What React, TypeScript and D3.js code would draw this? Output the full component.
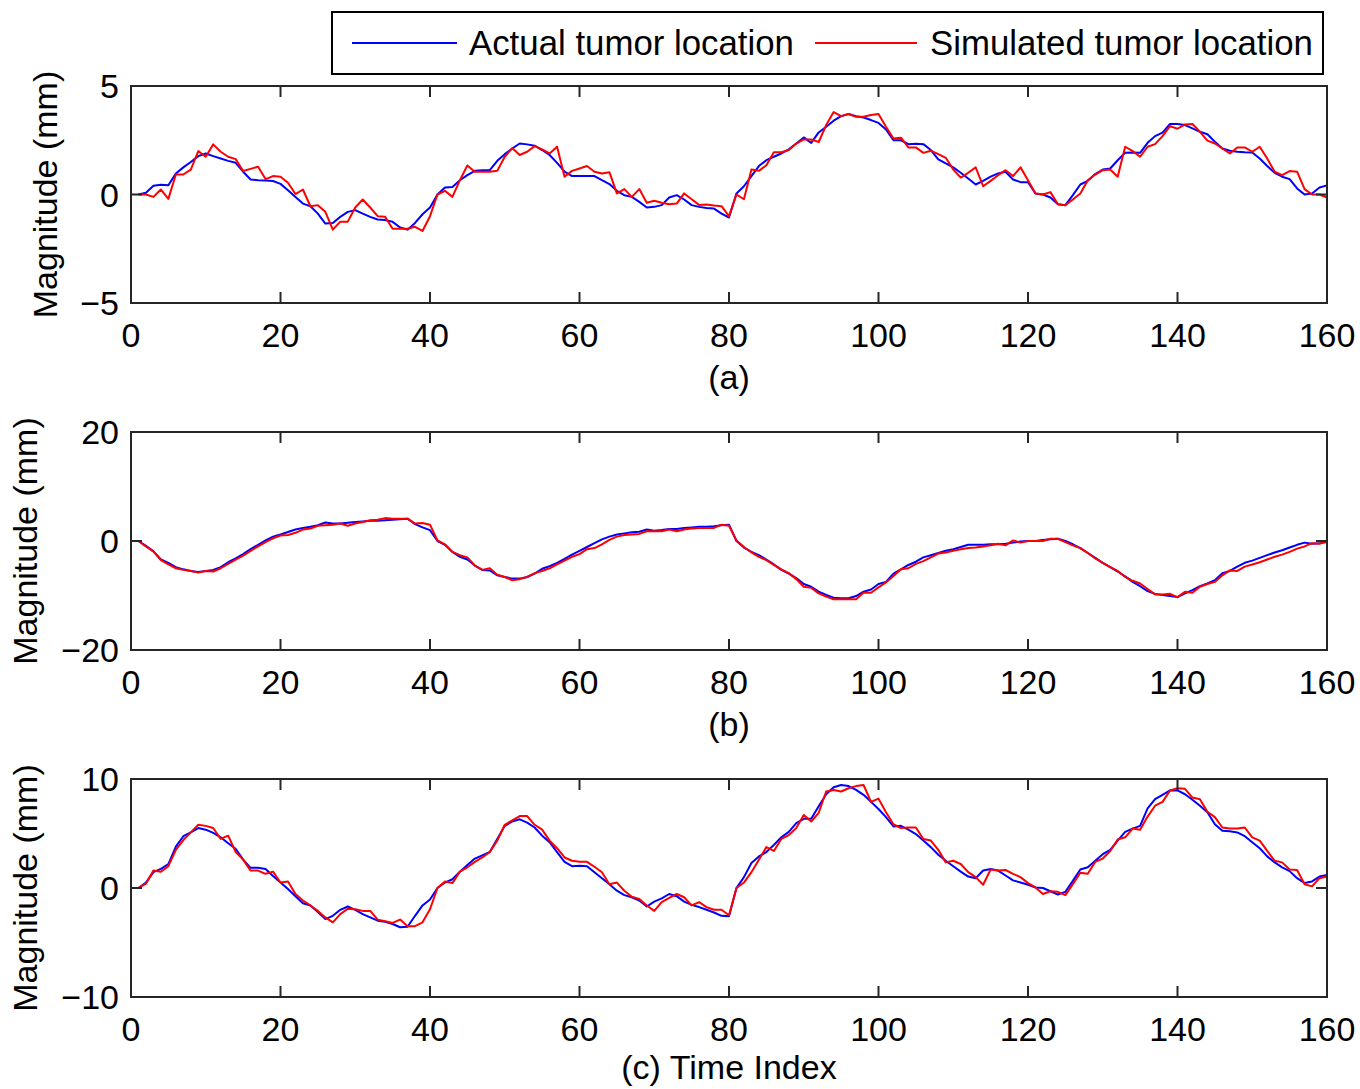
import React from "react";
import * as d3 from "d3";

const timeIndex = d3.range(1, 161);
const xTicks = [0, 20, 40, 60, 80, 100, 120, 140, 160];

const aActual = [
  0.0, 0.08, 0.4, 0.45, 0.43, 0.97, 1.25, 1.5, 1.77, 1.89,
  1.77, 1.66, 1.55, 1.46, 1.05, 0.69, 0.66, 0.65, 0.62, 0.49,
  0.2, -0.11, -0.42, -0.54, -0.88, -1.34, -1.31, -1.03, -0.8, -0.72,
  -0.88, -1.03, -1.15, -1.18, -1.26, -1.52, -1.62, -1.31, -0.91, -0.6,
  0.0, 0.32, 0.35, 0.66, 0.89, 1.09, 1.12, 1.12, 1.55, 1.86,
  2.12, 2.35, 2.31, 2.25, 2.05, 1.82, 1.46, 1.05, 0.85, 0.85,
  0.85, 0.85, 0.66, 0.48, 0.17, -0.03, -0.11, -0.34, -0.6, -0.57,
  -0.49, -0.14, -0.03, -0.23, -0.49, -0.57, -0.62, -0.65, -0.88, -1.06,
  0.05, 0.38, 0.85, 1.31, 1.58, 1.74, 1.89, 2.08, 2.35, 2.63,
  2.38, 2.86, 3.12, 3.4, 3.61, 3.71, 3.61, 3.55, 3.43, 3.3,
  3.0, 2.5, 2.5, 2.32, 2.34, 2.32, 2.05, 1.62, 1.43, 1.25,
  1.0, 0.74, 0.46, 0.63, 0.82, 0.97, 1.05, 0.69, 0.57, 0.57,
  0.05, 0.0, -0.14, -0.45, -0.49, -0.03, 0.46, 0.63, 0.94, 1.15,
  1.2, 1.58, 1.92, 1.94, 1.92, 2.38, 2.69, 2.85, 3.25, 3.25,
  3.2, 3.05, 2.89, 2.78, 2.43, 2.12, 2.02, 1.97, 1.95, 1.94,
  1.66, 1.31, 1.0, 0.82, 0.71, 0.28, 0.0, 0.05, 0.32, 0.42,
];

const aSimulated = [
  0, 0, -0.11, 0.23, -0.2, 0.92, 0.92, 1.15, 2.0, 1.74,
  2.31, 1.97, 1.74, 1.63, 1.08, 1.18, 1.28, 0.71, 0.85, 0.82,
  0.54, 0.02, 0.23, -0.54, -0.49, -0.8, -1.62, -1.25, -1.25, -0.6,
  -0.23, -0.6, -1.0, -1.03, -1.58, -1.58, -1.58, -1.49, -1.68, -1.0,
  0.0, 0.17, -0.11, 0.66, 1.34, 1.05, 1.05, 1.05, 1.09, 1.74,
  2.14, 1.82, 1.97, 2.23, 2.08, 1.89, 2.2, 0.82, 1.09, 1.2,
  1.31, 1.05, 0.97, 1.03, 0.05, 0.25, -0.11, 0.25, -0.38, -0.29,
  -0.38, -0.45, -0.42, 0.05, -0.22, -0.48, -0.46, -0.51, -0.54, -1.0,
  0.0, -0.22, 1.15, 1.09, 1.35, 1.95, 1.95, 2.05, 2.35, 2.54,
  2.54, 2.42, 3.2, 3.8, 3.61, 3.71, 3.58, 3.58, 3.66, 3.71,
  3.12, 2.58, 2.62, 2.17, 2.17, 1.92, 2.02, 1.86, 1.69, 1.15,
  0.78, 1.0, 1.25, 0.38, 0.63, 0.89, 1.12, 0.85, 1.25, 0.66,
  0.05, 0.0, 0.11, -0.45, -0.49, -0.23, 0.05, 0.66, 0.92, 1.12,
  1.15, 0.82, 2.2, 2.0, 1.74, 2.2, 2.32, 2.69, 3.15, 3.03,
  3.23, 3.25, 2.89, 2.48, 2.35, 2.12, 1.89, 2.17, 2.17, 1.97,
  2.2, 1.66, 1.05, 0.89, 1.08, 1.05, 0.25, 0.0, 0.0, -0.14,
];

const bActual = [
  0, -0.9, -1.9, -3.4, -4.0, -4.8, -5.2, -5.5, -5.7, -5.5,
  -5.3, -4.8, -3.9, -3.2, -2.4, -1.5, -0.7, 0.1, 0.8, 1.2,
  1.65, 2.1, 2.4, 2.6, 2.9, 3.4, 3.2, 3.2, 3.35, 3.5,
  3.6, 3.7, 3.7, 3.8, 3.9, 4.0, 4.1, 3.1, 2.5, 2.0,
  0, -0.7, -2.0, -2.9, -3.4, -4.5, -5.3, -5.4, -6.3, -6.6,
  -6.9, -6.9, -6.6, -6.0, -5.1, -4.6, -4.0, -3.3, -2.5, -1.8,
  -1.1, -0.4, 0.3, 0.8, 1.2, 1.4, 1.6, 1.7, 2.1, 1.9,
  2.0, 2.2, 2.2, 2.4, 2.5, 2.6, 2.6, 2.7, 2.9, 3.0,
  0, -1.2, -2.0, -2.6, -3.4, -4.3, -5.3, -6.0, -6.8, -7.9,
  -8.4, -9.3, -9.9, -10.4, -10.5, -10.5, -10.1, -9.3, -8.9, -7.9,
  -7.5, -6.0, -5.2, -4.4, -3.8, -3.0, -2.6, -2.2, -1.8, -1.5,
  -1.1, -0.7, -0.7, -0.7, -0.6, -0.6, -0.5, -0.3, -0.1, 0.0,
  0.0, 0.2, 0.3, 0.4, 0.0, -0.6, -1.3, -2.2, -3.1, -4.0,
  -4.8, -5.6, -6.5, -7.5, -8.3, -9.2, -9.7, -9.9, -10.1, -10.3,
  -9.6, -9.0, -8.3, -7.8, -7.2, -5.9, -5.5, -4.7, -4.0, -3.6,
  -3.1, -2.6, -2.1, -1.7, -1.2, -0.7, -0.3, -0.5, -0.4, -0.2,
];

const bSimulated = [
  0, -1.0, -1.9, -3.5, -4.3, -5.0, -5.3, -5.5, -5.8, -5.5,
  -5.6, -5.0, -4.2, -3.4, -2.7, -1.8, -1.0, -0.2, 0.5, 1.0,
  1.1, 1.5, 2.1, 2.3, 2.8, 2.9, 3.0, 3.2, 2.8, 3.2,
  3.5, 3.8, 3.9, 4.2, 4.1, 4.1, 4.1, 3.2, 3.3, 3.0,
  0.1, -0.6, -2.0, -2.6, -3.0, -4.5, -5.3, -5.0, -6.2, -6.6,
  -7.2, -7.0, -6.6, -5.9, -5.5, -5.0, -4.3, -3.6, -2.9, -2.4,
  -1.5, -1.3, -0.6, 0.2, 0.8, 1.1, 1.2, 1.3, 1.8, 1.8,
  1.8, 2.1, 1.8, 2.1, 2.3, 2.4, 2.4, 2.4, 3.0, 2.8,
  0.1, -1.1, -2.1, -2.9, -3.5, -4.4, -5.2, -5.9, -7.0, -8.4,
  -8.6, -9.6, -10.2, -10.7, -10.7, -10.7, -10.7, -9.5, -9.5, -8.5,
  -7.6, -6.4, -5.2, -5.0, -4.2, -3.7, -3.0, -2.3, -2.1, -1.8,
  -1.5, -1.3, -1.2, -1.0, -0.8, -0.5, -0.8, 0.1, -0.3, 0.0,
  0.0, 0.0, 0.4, 0.4, -0.2, -0.8, -1.3, -2.2, -3.2, -4.0,
  -4.8, -5.5, -6.6, -7.3, -7.8, -8.8, -9.8, -9.8, -9.7, -10.3,
  -9.3, -9.5, -8.4, -7.9, -7.5, -6.3, -5.4, -5.5, -4.7, -4.3,
  -3.9, -3.4, -2.9, -2.5, -2.0, -1.4, -1.0, -0.4, -0.5, 0.0,
];

const cActual = [
  0, 0.5, 1.45, 1.75, 2.2, 3.8, 4.75, 5.1, 5.5, 5.35,
  5.05, 4.65, 4.1, 3.6, 2.6, 1.85, 1.85, 1.75, 1.1, 0.5,
  -0.1, -0.75, -1.4, -1.6, -2.2, -2.85, -2.55, -2.0, -1.7, -2.0,
  -2.4, -2.7, -3.0, -3.1, -3.3, -3.6, -3.55, -2.55, -1.6, -1.05,
  0, 0.5, 0.8, 1.5, 2.1, 2.7, 3.0, 3.3, 4.5, 5.7,
  6.1, 6.3, 6.0, 5.55, 4.8, 4.2, 3.3, 2.4, 2.0, 2.05,
  2.0, 1.45, 0.9, 0.35, -0.25, -0.65, -0.85, -1.15, -1.7, -1.25,
  -0.95, -0.55, -0.75, -1.25, -1.55, -1.75, -2.0, -2.25, -2.55, -2.6,
  0, 1.0, 2.3, 2.9, 3.3, 3.95, 4.65, 5.15, 5.95, 6.35,
  6.35, 7.5, 8.6, 9.25, 9.45, 9.35, 9.0, 8.55, 7.9, 7.25,
  6.5, 5.65, 5.7, 5.35, 4.95, 4.35, 3.75, 3.05, 2.5, 2.0,
  1.5, 1.05, 0.9, 1.6, 1.75, 1.6, 1.15, 0.7, 0.5, 0.3,
  0.05, 0, -0.3, -0.6, -0.35, 0.65, 1.7, 1.9, 2.5, 3.1,
  3.5, 4.35, 5.15, 5.45, 5.7, 7.3, 8.15, 8.55, 8.95, 8.95,
  8.6, 8.1, 7.55, 6.95, 5.85, 5.25, 5.2, 5.1, 4.75, 4.2,
  3.65, 2.9, 2.35, 1.9, 1.55, 0.9, 0.45, 0.6, 1.05, 1.2,
];

const cSimulated = [
  0, 0.4, 1.6, 1.5, 2.0, 3.5, 4.4, 5.1, 5.8, 5.7,
  5.5, 4.5, 4.8, 3.3, 2.6, 1.6, 1.6, 1.3, 1.5, 0.5,
  0.6, -0.55, -1.15, -1.6, -2.1, -2.7, -3.15, -2.4, -1.9, -1.95,
  -2.1, -2.1, -2.9, -3.05, -3.2, -2.9, -3.5, -3.5, -3.15, -1.95,
  0, 0.6, 0.45, 1.5, 1.9, 2.4, 2.8, 3.3, 4.35, 5.8,
  6.2, 6.6, 6.6, 5.8, 5.35, 4.35, 3.65, 2.8, 2.5, 2.4,
  2.4, 1.95, 1.45, 0.35, 0.5, -0.25, -0.8, -1.0, -1.6, -2.1,
  -1.3, -0.9, -0.55, -0.85, -1.6, -1.3, -1.75, -2.0, -2.0, -2.5,
  0, 0.5, 1.45, 2.6, 3.75, 3.4, 4.5, 4.85, 5.5, 6.7,
  6.1, 6.9, 8.85, 9.0, 8.85, 9.15, 9.35, 9.45, 7.9, 8.2,
  6.95, 5.85, 5.5, 5.55, 5.55, 4.5, 4.35, 3.5, 2.35, 2.5,
  2.2, 1.45, 1.0, 0.3, 1.7, 1.6, 1.65, 1.3, 1.0, 0.45,
  0.05, -0.55, -0.3, -0.35, -0.65, 0.35, 1.4, 1.3, 2.4, 2.7,
  3.4, 4.45, 4.65, 5.45, 5.35, 6.55, 7.55, 7.9, 8.95, 9.15,
  9.1, 8.3, 8.15, 7.0, 6.5, 5.55, 5.45, 5.45, 5.55, 4.65,
  4.35, 3.4, 2.5, 2.35, 1.7, 1.65, 0.35, 0.15, 0.9, 1.05,
];

const aYTicks = [-5, 0, 5];
const bYTicks = [-20, 0, 20];
const cYTicks = [-10, 0, 10];

const seriesNames = ["Actual tumor location", "Simulated tumor location"];
const panelCaptions = ["(a)", "(b)", "(c) Time Index"];

const FONT = "'Liberation Sans', Arial, Helvetica, sans-serif";
const FS = 34;
const BLUE = "#0000ff";
const RED = "#ff0000";
const AXIS = "#262626";

const fmt = (v: number) => (v < 0 ? "\u2212" + Math.abs(v) : String(v));

type PanelProps = {
  top: number;
  bottom: number;
  yTicks: number[];
  actual: number[];
  simulated: number[];
  caption: string;
  captionDy: number;
  titleX: number;
};

const x = d3.scaleLinear().domain([0, 160]).range([131, 1327]);

function Panel({ top, bottom, yTicks, actual, simulated, caption, captionDy, titleX }: PanelProps) {
  const y = d3
    .scaleLinear()
    .domain([yTicks[0], yTicks[yTicks.length - 1]])
    .range([bottom, top]);
  const line = d3
    .line<number>()
    .x((_, i) => x(timeIndex[i]))
    .y((d) => y(d));
  const [x0, x1] = x.range();
  const tl = 11;
  return (
    <g>
      <path d={line(actual) || ""} fill="none" stroke={BLUE} strokeWidth={2} strokeLinejoin="round" />
      <path d={line(simulated) || ""} fill="none" stroke={RED} strokeWidth={2} strokeLinejoin="round" />
      {xTicks.map((t) => (
        <g key={"xt" + t}>
          <line x1={x(t)} x2={x(t)} y1={bottom} y2={bottom - tl} stroke={AXIS} strokeWidth={2} />
          <line x1={x(t)} x2={x(t)} y1={top} y2={top + tl} stroke={AXIS} strokeWidth={2} />
          <text x={x(t)} y={bottom + 44} textAnchor="middle" fontSize={FS} fontFamily={FONT} fill="#000">
            {t}
          </text>
        </g>
      ))}
      {yTicks.map((t) => (
        <g key={"yt" + t}>
          <line x1={x0} x2={x0 + tl} y1={y(t)} y2={y(t)} stroke={AXIS} strokeWidth={2} />
          <line x1={x1} x2={x1 - tl} y1={y(t)} y2={y(t)} stroke={AXIS} strokeWidth={2} />
          <text x={119} y={y(t) + 12} textAnchor="end" fontSize={FS} fontFamily={FONT} fill="#000">
            {fmt(t)}
          </text>
        </g>
      ))}
      <rect x={x0} y={top} width={x1 - x0} height={bottom - top} fill="none" stroke={AXIS} strokeWidth={2} />
      <text
        transform={`translate(${titleX},${(top + bottom) / 2}) rotate(-90)`}
        textAnchor="middle"
        fontSize={FS}
        fontFamily={FONT}
        fill="#000"
      >
        Magnitude (mm)
      </text>
      <text x={729} y={bottom + captionDy} textAnchor="middle" fontSize={FS} fontFamily={FONT} fill="#000">
        {caption}
      </text>
    </g>
  );
}

export default function App() {
  return (
    <svg
      width={1360}
      height={1089}
      style={{ position: "absolute", left: 0, top: 0, background: "#fff" }}
    >
      <rect x={0} y={0} width={1360} height={1089} fill="#fff" />
      <Panel top={86} bottom={303} yTicks={aYTicks} actual={aActual} simulated={aSimulated} caption={panelCaptions[0]} captionDy={86} titleX={57} />
      <Panel top={432} bottom={650} yTicks={bYTicks} actual={bActual} simulated={bSimulated} caption={panelCaptions[1]} captionDy={86} titleX={37} />
      <Panel top={779} bottom={997} yTicks={cYTicks} actual={cActual} simulated={cSimulated} caption={panelCaptions[2]} captionDy={82} titleX={37} />
      <g>
        <rect x={332} y={12} width={991} height={62} fill="#fff" stroke="#000" strokeWidth={2} />
        <line x1={352} x2={457} y1={43} y2={43} stroke={BLUE} strokeWidth={2} />
        <text x={469} y={55} fontSize={34.8} fontFamily={FONT} fill="#000">
          {seriesNames[0]}
        </text>
        <line x1={815} x2={917} y1={43} y2={43} stroke={RED} strokeWidth={2} />
        <text x={930} y={55} fontSize={34.8} fontFamily={FONT} fill="#000">
          {seriesNames[1]}
        </text>
      </g>
    </svg>
  );
}
